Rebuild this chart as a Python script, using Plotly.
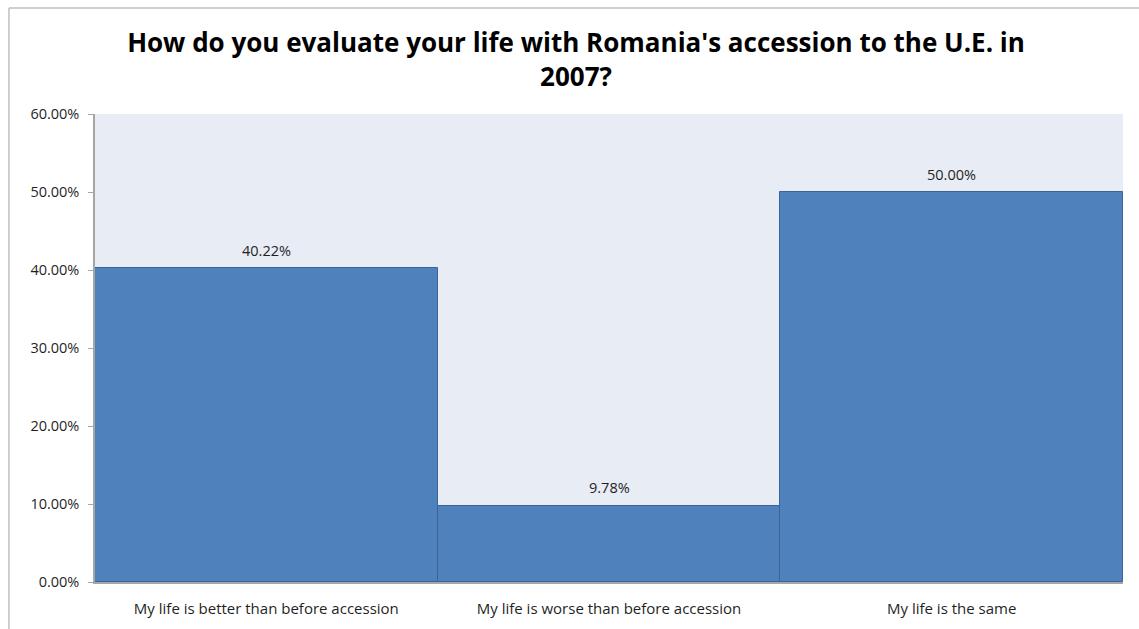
import plotly.graph_objects as go

categories = [
    "My life is better than before accession",
    "My life is worse than before accession",
    "My life is the same",
]
shares = [40.22, 9.78, 50.00]
tick_values = [0, 10, 20, 30, 40, 50, 60]
tick_labels = [f"{v:.2f}%" for v in tick_values]

BAR_FILL = "#4F81BD"
BAR_EDGE = "#3B6596"
PLOT_BG = "#E8ECF4"
AXIS_GRAY = "#A6A6A6"
TEXT_DARK = "#1F1F1F"
LABEL_FONT = "Open Sans"

fig = go.Figure()
fig.add_trace(
    go.Bar(
        x=categories,
        y=shares,
        marker=dict(color=BAR_FILL, line=dict(color=BAR_EDGE, width=1)),
        hoverinfo="skip",
    )
)

# value labels above each bar
for cat, val in zip(categories, shares):
    fig.add_annotation(
        x=cat, y=val, text=f"{val:.2f}%", showarrow=False,
        yshift=18, font=dict(family=LABEL_FONT, size=14.5, color=TEXT_DARK),
    )

# outer frame of the chart box
fig.add_shape(type="line", xref="paper", yref="paper",
              x0=-0.0837, x1=1.02, y0=1.2265, y1=1.2265,
              line=dict(color="#BFBFBF", width=1.5))
fig.add_shape(type="line", xref="paper", yref="paper",
              x0=-0.0837, x1=-0.0837, y0=1.2265, y1=-0.12,
              line=dict(color="#BFBFBF", width=1.5))

fig.update_layout(
    width=1139,
    height=629,
    margin=dict(l=95, r=16, t=114, b=47),
    paper_bgcolor="white",
    plot_bgcolor=PLOT_BG,
    bargap=0,
    showlegend=False,
    title=dict(
        text="How do you evaluate your life with Romania's accession to the U.E. in<br>2007?",
        x=0.5057, xanchor="center", y=0.9175, yanchor="middle",
        font=dict(family="Open Sans", size=26, color="black", weight="bold"),
    ),
    font=dict(family=LABEL_FONT, color=TEXT_DARK),
    xaxis=dict(
        showline=True, linecolor=AXIS_GRAY, linewidth=1.5,
        ticks="", tickfont=dict(family=LABEL_FONT, size=15, color=TEXT_DARK),
        ticklabelstandoff=12, automargin=False,
        showgrid=False,
    ),
    yaxis=dict(
        range=[0, 60], tickvals=tick_values, ticktext=tick_labels,
        showline=True, linecolor=AXIS_GRAY, linewidth=1.5,
        ticks="outside", ticklen=5, tickcolor=AXIS_GRAY,
        tickfont=dict(family=LABEL_FONT, size=14.5, color=TEXT_DARK),
        ticklabelstandoff=6, automargin=False,
        showgrid=False, zeroline=False,
    ),
)

fig.write_html("out.html")
